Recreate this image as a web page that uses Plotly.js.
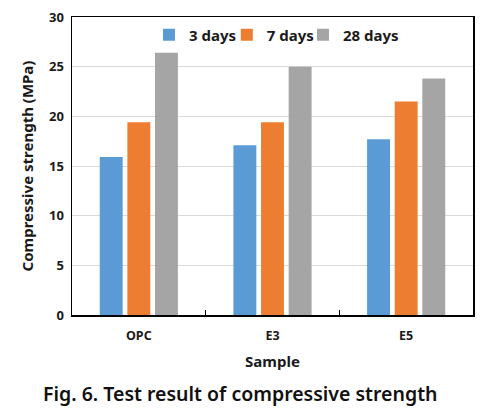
<!DOCTYPE html>
<html><head><meta charset="utf-8">
<script src="https://cdn.plot.ly/plotly-3.0.1.min.js"></script>
<style>html,body{margin:0;padding:0;background:#fff;}#chart{width:493px;height:411px;}</style>
</head><body><div id="chart"></div>
<script>
const samples = ["OPC", "E3", "E5"];
const seriesNames = ["3 days", "7 days", "28 days"];
const days3 = [15.9, 17.1, 17.7];
const days7 = [19.4, 19.4, 21.5];
const days28 = [26.4, 25.0, 23.8];
const colors = ["#5B9BD5", "#ED7D31", "#A5A5A5"];
const seriesValues = [days3, days7, days28];

const font = "'Noto Sans', 'DejaVu Sans', sans-serif";
const legendIds = ["legend", "legend2", "legend3"];
const traces = seriesValues.map((v, i) => ({
  type: "bar", x: samples, y: v, name: seriesNames[i],
  marker: {color: colors[i]}, legend: legendIds[i]
}));

function leg(x) {
  return {orientation: "h", x: x, xanchor: "left", y: 0.995, yanchor: "top",
    font: {size: 15, family: font, weight: "bold"}, bgcolor: "rgba(0,0,0,0)",
    itemwidth: 30};
}

const layout = {
  width: 493, height: 411,
  margin: {l: 72, r: 20, t: 17, b: 96},
  paper_bgcolor: "#fff", plot_bgcolor: "#fff",
  barmode: "group", bargap: 0.38, bargroupgap: 0.17,
  font: {family: font, color: "#1a1a1a"},
  showlegend: true,
  legend: leg(0.192), legend2: leg(0.386), legend3: leg(0.576),
  xaxis: {
    showline: true, linecolor: "#000", linewidth: 1.5, mirror: true,
    ticks: "inside", tickson: "boundaries", ticklen: 5, tickcolor: "#000",
    ticklabelstandoff: 8,
    tickfont: {size: 12.5, family: font, weight: "bold"},
    title: {text: "Sample", font: {size: 15, family: font, weight: "bold"}, standoff: 14}
  },
  yaxis: {
    range: [0, 30], dtick: 5,
    showline: true, linecolor: "#000", linewidth: 1.5, mirror: true,
    showgrid: true, gridcolor: "#d9d9d9", zeroline: false, ticks: "",
    ticklabelstandoff: 4,
    tickfont: {size: 13, family: font, weight: "bold"},
    title: {text: "Compressive strength (MPa)", font: {size: 15, family: font, weight: "bold"}, standoff: 12}
  },
  annotations: [{
    text: "Fig. 6. Test result of compressive strength",
    xref: "paper", yref: "paper", x: 0.419, y: -0.265, xanchor: "center", yanchor: "middle",
    showarrow: false, font: {size: 19.5, family: font, weight: 600, color: "#111"}
  }]
};
Plotly.newPlot("chart", traces, layout, {displayModeBar: false, staticPlot: true});
</script></body></html>
